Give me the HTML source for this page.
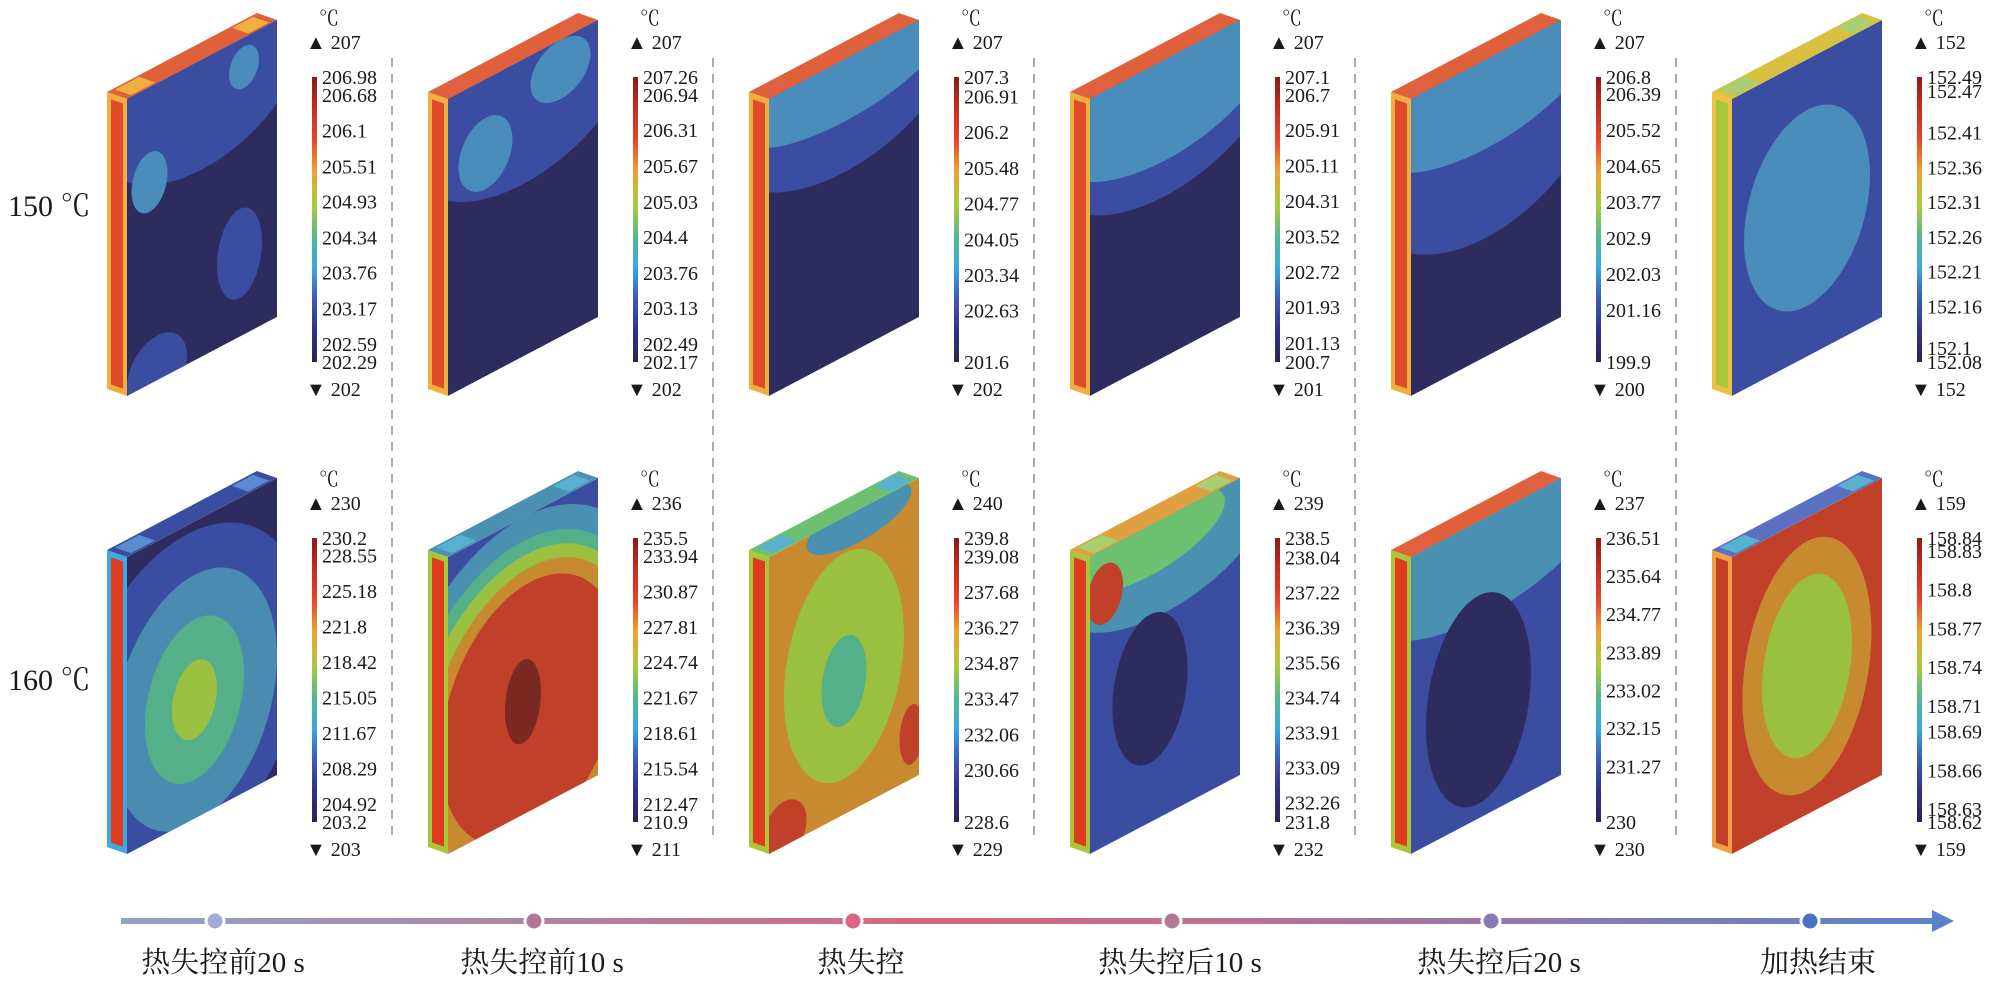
<!DOCTYPE html>
<html><head><meta charset="utf-8">
<style>
html,body{margin:0;padding:0;background:#fff;}
#root{position:relative;width:2008px;height:984px;overflow:hidden;background:#fff;}
svg text{font-family:"Liberation Serif","Noto Serif CJK SC",serif;fill:#1a1a1a;}
</style></head>
<body>
<div id="root">
<svg id="fig" width="2008" height="984" viewBox="0 0 2008 984" xmlns="http://www.w3.org/2000/svg">
<defs>
<clipPath id="unit" clipPathUnits="userSpaceOnUse"><rect x="0" y="0" width="1" height="1"/></clipPath>
<linearGradient id="cbGrad" x1="0" y1="0" x2="0" y2="1">
<stop offset="0" stop-color="#8b1a1a"/><stop offset="0.1" stop-color="#c42a20"/>
<stop offset="0.22" stop-color="#e6452a"/><stop offset="0.33" stop-color="#f0a030"/>
<stop offset="0.45" stop-color="#a8cc3a"/><stop offset="0.56" stop-color="#55b890"/>
<stop offset="0.67" stop-color="#3aa8e0"/><stop offset="0.78" stop-color="#3a5ab8"/>
<stop offset="0.89" stop-color="#34308a"/><stop offset="1" stop-color="#2a2550"/>
</linearGradient>
<linearGradient id="arrowGrad" x1="0" y1="0" x2="1" y2="0">
<stop offset="0" stop-color="#93a3cc"/><stop offset="0.25" stop-color="#b3809f"/>
<stop offset="0.45" stop-color="#d8687f"/><stop offset="0.6" stop-color="#c07090"/>
<stop offset="0.8" stop-color="#8a7ab2"/><stop offset="1" stop-color="#5a82cc"/>
</linearGradient>
</defs>
<text x="8" y="216" font-size="30">150 ℃</text>
<text x="8" y="690" font-size="30">160 ℃</text>
<g id="panels"></g>
<g id="timeline">
<rect x="121" y="918" width="1820" height="6" fill="url(#arrowGrad)"/>
<polygon points="1932,910 1954,921 1932,932" fill="#5a82cc"/>
</g>
</svg>
</div>
<script>
const stageLabels = ["热失控前20 s","热失控前10 s","热失控","热失控后10 s","热失控后20 s","加热结束"];
const dotColors = ["#a4acd2","#b27896","#dc6680","#b27896","#8a7ab2","#4a72c4"];
const topMarks = [["207","207","207","207","207","152"],["230","236","240","239","237","159"]];
const botMarks = [["202","202","202","201","200","152"],["203","211","229","232","230","159"]];
const cbR1C1 = ["206.98","206.68","206.1","205.51","204.93","204.34","203.76","203.17","202.59","202.29"];
const cbR1C2 = ["207.26","206.94","206.31","205.67","205.03","204.4","203.76","203.13","202.49","202.17"];
const cbR1C3 = ["207.3","206.91","206.2","205.48","204.77","204.05","203.34","202.63","201.6"];
const cbR1C4 = ["207.1","206.7","205.91","205.11","204.31","203.52","202.72","201.93","201.13","200.7"];
const cbR1C5 = ["206.8","206.39","205.52","204.65","203.77","202.9","202.03","201.16","199.9"];
const cbR1C6 = ["152.49","152.47","152.41","152.36","152.31","152.26","152.21","152.16","152.1","152.08"];
const cbR2C1 = ["230.2","228.55","225.18","221.8","218.42","215.05","211.67","208.29","204.92","203.2"];
const cbR2C2 = ["235.5","233.94","230.87","227.81","224.74","221.67","218.61","215.54","212.47","210.9"];
const cbR2C3 = ["239.8","239.08","237.68","236.27","234.87","233.47","232.06","230.66","228.6"];
const cbR2C4 = ["238.5","238.04","237.22","236.39","235.56","234.74","233.91","233.09","232.26","231.8"];
const cbR2C5 = ["236.51","235.64","234.77","233.89","233.02","232.15","231.27","230"];
const cbR2C6 = ["158.84","158.83","158.8","158.77","158.74","158.71","158.69","158.66","158.63","158.62"];
const cbAll = [[cbR1C1,cbR1C2,cbR1C3,cbR1C4,cbR1C5,cbR1C6],[cbR2C1,cbR2C2,cbR2C3,cbR2C4,cbR2C5,cbR2C6]];

const N='#2e2b5e',B='#3b4da0',T='#4a8cbc',G='#55b08a',Y='#9ac040',O='#c88a30',R='#c0402a',D='#7a2a22';
const specs = [[
 {base:N,blobs:[[0.5,0.12,0.65,0.25,B],[0.15,0.32,0.12,0.1,T],[0.78,0.1,0.1,0.07,T],[0.75,0.72,0.15,0.15,B],[0.2,0.97,0.2,0.12,B]],side:['#f0b040','#e04a2a'],top:['#e0603a','#f0b040']},
 {base:N,blobs:[[0.5,0.12,0.75,0.3,B],[0.25,0.25,0.18,0.12,T],[0.75,0.1,0.2,0.1,T]],side:['#f0b040','#e04a2a'],top:['#e0603a','#e06040']},
 {base:N,blobs:[[0.5,0.08,0.8,0.3,B],[0.5,0.06,0.7,0.15,T]],side:['#f0b040','#e04a2a'],top:['#e0603a','#e06040']},
 {base:N,blobs:[[0.5,0.1,0.85,0.36,B],[0.5,0.08,0.78,0.26,T]],side:['#f0b040','#e04a2a'],top:['#e0603a','#e06040']},
 {base:N,blobs:[[0.5,0.18,0.85,0.42,B],[0.5,0.08,0.78,0.22,T]],side:['#f0b040','#e04a2a'],top:['#e0603a','#e06040']},
 {base:B,blobs:[[0.5,0.5,0.42,0.33,T]],side:['#f0c040','#a8c83a'],top:['#d8c040','#a8d070']}
],[
 {base:N,blobs:[[0.4,0.58,0.8,0.55,B],[0.45,0.6,0.55,0.42,'#4a8cb0'],[0.45,0.6,0.33,0.27,G],[0.45,0.6,0.15,0.13,Y]],side:['#3fa8e0','#e03a20'],top:[B,'#5a8ad0']},
 {base:B,blobs:[[0.5,0.68,0.95,0.68,'#4a90b0'],[0.5,0.68,0.85,0.6,G],[0.52,0.68,0.78,0.55,Y],[0.55,0.68,0.7,0.5,O],[0.55,0.66,0.6,0.43,R],[0.5,0.62,0.12,0.14,D]],side:['#a8c83a','#e03a20'],top:['#4a90b0','#5ab0d0']},
 {base:O,blobs:[[0.6,0.03,0.35,0.08,'#4a90b0'],[0.5,0.5,0.4,0.38,Y],[0.5,0.55,0.15,0.15,G],[0.1,0.95,0.15,0.1,R],[0.95,0.85,0.08,0.1,R]],side:['#a8c83a','#e03a20'],top:['#6cc070','#5ab0d0']},
 {base:B,blobs:[[0.5,0.1,0.7,0.22,'#4a90b0'],[0.4,0.05,0.5,0.12,'#6cc070'],[0.1,0.15,0.12,0.1,R],[0.4,0.55,0.25,0.25,N]],side:['#a8c83a','#e03a20'],top:['#e0a040','#a8d070']},
 {base:B,blobs:[[0.5,0.08,0.85,0.25,'#4a90b0'],[0.45,0.6,0.35,0.35,N]],side:['#a8c83a','#e03a20'],top:['#e0603a','#e06040']},
 {base:R,blobs:[[0.5,0.5,0.43,0.42,O],[0.5,0.5,0.3,0.3,Y]],side:['#f0a040','#c0402a'],top:['#5a70c0','#5ab0d0']}
]];

const NS='http://www.w3.org/2000/svg';
function mk(tag,attrs,parent){const e=document.createElementNS(NS,tag);for(const k in attrs)e.setAttribute(k,attrs[k]);if(parent)parent.appendChild(e);return e;}
const panels=document.getElementById('panels');
const colStep=321, rowOff=[-458,0];
const barTop=[77,538], barBot=[362,822];

for(let r=0;r<2;r++){for(let c=0;c<6;c++){
 const ox=c*colStep, oy=rowOff[r], sp=specs[r][c];
 const g=mk('g',{},panels);
 
 
 const gs=mk('g',{transform:`matrix(-20,-7,0,297,${127+ox},${557+oy})`},g);
 mk('rect',{x:0,y:0,width:1,height:1,fill:sp.side[0]},gs);
 mk('rect',{x:0.2,y:0.02,width:0.6,height:0.96,fill:sp.side[1]},gs);
 const gt=mk('g',{transform:`matrix(150,-79,-20,-7,${127+ox},${557+oy})`},g);
 mk('rect',{x:0,y:0,width:1,height:1,fill:sp.top[0]},gt);
 mk('rect',{x:0.04,y:0.1,width:0.16,height:0.8,fill:sp.top[1]},gt);
 mk('rect',{x:0.82,y:0.1,width:0.14,height:0.8,fill:sp.top[1]},gt);
 const gf=mk('g',{transform:`matrix(150,-79,0,297,${127+ox},${557+oy})`},g);
 const inner=mk('g',{'clip-path':'url(#unit)'},gf);
 mk('rect',{x:0,y:0,width:1,height:1,fill:sp.base},inner);
 sp.blobs.forEach(b=>mk('ellipse',{cx:b[0],cy:b[1],rx:b[2],ry:b[3],fill:b[4]},inner));
 const cx=312+ox, lx=322+ox, t=barTop[r], bt=barBot[r];
 const cb=mk('g',{},panels);
 
 
 mk('rect',{x:cx,y:t,width:5,height:bt-t,fill:'url(#cbGrad)'},cb);
 const u=mk('text',{x:319+ox,y:t-52,'font-size':20},cb); u.textContent='℃';
 const tm=mk('text',{x:306+ox,y:t-28,'font-size':20},cb); tm.textContent='▲ '+topMarks[r][c];
 const bm=mk('text',{x:306+ox,y:bt+34,'font-size':20},cb); bm.textContent='▼ '+botMarks[r][c];
 const labs=cbAll[r][c], v0=parseFloat(labs[0]), v1=parseFloat(labs[labs.length-1]);
 labs.forEach(s=>{const y=t+(v0-parseFloat(s))/(v0-v1)*(bt-t);
  const tx=mk('text',{x:lx,y:y+7,'font-size':20},cb); tx.textContent=s;
  
  });
 if(r===0 && c<5){
  const dl=mk('line',{x1:392+ox,y1:58,x2:392+ox,y2:842,stroke:'#b0a8a8','stroke-width':2,'stroke-dasharray':'9,7'},panels);
  
  
 }
}}
const tl=document.getElementById('timeline');
stageLabels.forEach((s,i)=>{
 const x=215+319*i;
 const d=mk('circle',{cx:x,cy:921,r:9,fill:dotColors[i],stroke:'#fff','stroke-width':3},tl);
 
 
 const t=mk('text',{x:x+8,y:972,'font-size':29,'text-anchor':'middle'},tl);
 t.textContent=s;
 
 
});
</script>
</body></html>
